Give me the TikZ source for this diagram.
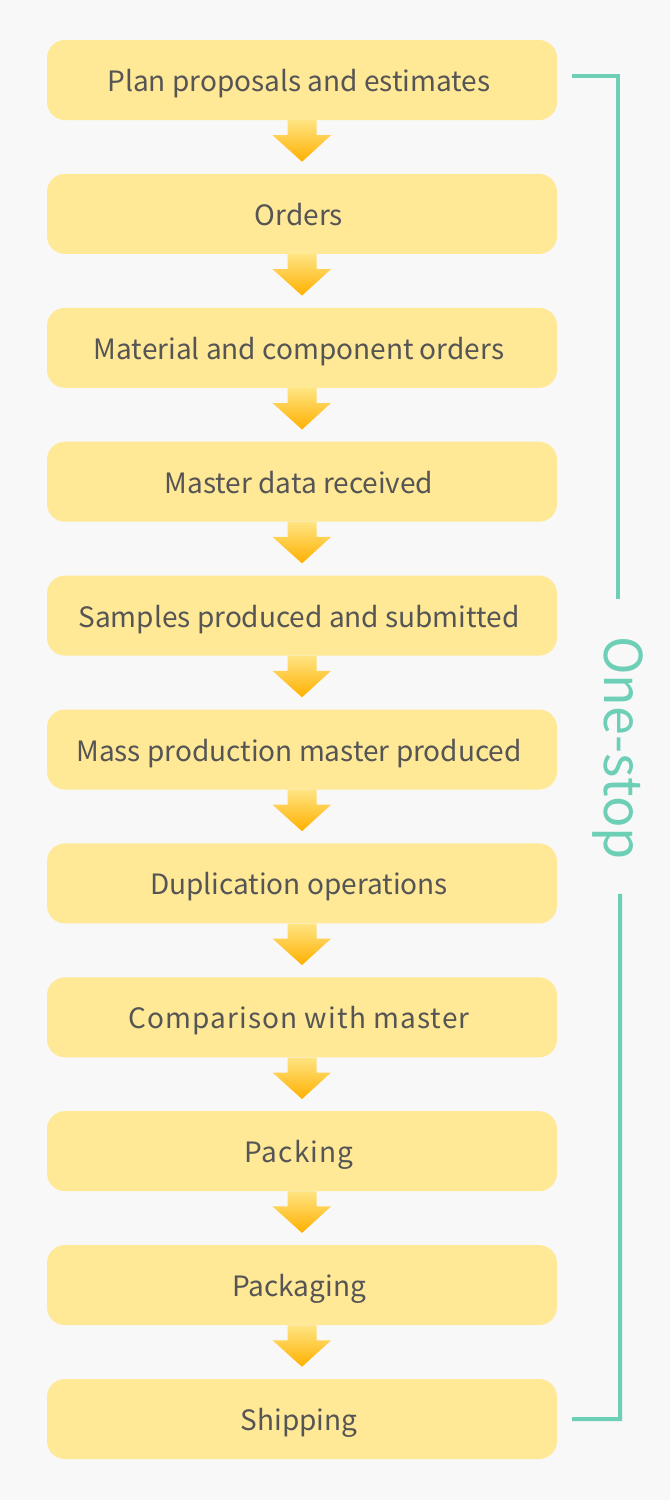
\documentclass[tikz,border=0pt]{standalone}
\usepackage{fontspec}
\setmainfont{Noto Sans CJK JP}
\usetikzlibrary{positioning, calc}
\definecolor{stepyellow}{RGB}{255, 232, 150}
\definecolor{arrowtop}{RGB}{255, 228, 130}
\definecolor{arrowbottom}{RGB}{255, 176, 0}
\definecolor{stopteal}{RGB}{109, 207, 182}
\definecolor{steptext}{RGB}{85, 85, 85}
\definecolor{paper}{RGB}{248, 248, 248}

\tikzset{
  stepbox/.style={fill=stepyellow, rounded corners=18pt, minimum width=510pt,
    minimum height=80pt, inner sep=0pt, text height=23pt, text depth=0pt,
    text=steptext, font=\fontsize{28}{32}\selectfont,
    execute at end node={\hspace*{6pt}}},
  spaced/.style={font=\fontsize{28}{32}\selectfont\addfontfeature{LetterSpace=4}},
  bracket/.style={draw=stopteal, line width=4pt}
}

\begin{document}
\begin{tikzpicture}[x=1pt, y=-1pt, node distance=53.5pt]
  \fill[paper] (0,0) rectangle (670,1500);
  \useasboundingbox (0,0) rectangle (670,1500);

  \node[stepbox] (b1) at (302,80) {Plan proposals and estimates};
  \node[stepbox, below=of b1] (b2) {Orders};
  \node[stepbox, below=of b2] (b3) {Material and component orders};
  \node[stepbox, below=of b3] (b4) {Master data received};
  \node[stepbox, below=of b4] (b5) {Samples produced and submitted};
  \node[stepbox, below=of b5] (b6) {Mass production master produced};
  \node[stepbox, below=of b6] (b7) {Duplication operations};
  \node[stepbox, spaced, below=of b7] (b8) {Comparison with master};
  \node[stepbox, spaced, below=of b8] (b9) {Packing};
  \node[stepbox, below=of b9] (b10) {Packaging};
  \node[stepbox, below=of b10] (b11) {Shipping};

  % arrows between the steps
  \foreach \i [evaluate=\i as \j using int(\i+1)] in {1,...,10} {
    \shade[top color=arrowtop, bottom color=arrowbottom]
      ($(b\i.south)+(-14.5,0)$) -- ++(29,0) -- ++(0,15) -- ++(14.5,0)
      -- ($(b\j.north)+(0,-12)$) -- ($(b\i.south)+(-29.5,15)$) -- ++(15,0) -- cycle;
  }

  % one-stop bracket
  \node[text=stopteal, rotate=-90, font=\fontsize{52}{60}\selectfont, inner sep=0pt] (stop) at (618,748) {One-stop};
  \coordinate (top) at ($(b1.east)+(15,-4)$);
  \coordinate (bottom) at ($(b11.east)+(15,0)$);
  \draw[bracket] (top) -- (618,76) -- ($(stop.west)+(0,-37)$);
  \draw[bracket] ($(stop.east)+(2,34)$) -- (620,1419) -- (bottom);
\end{tikzpicture}
\end{document}
